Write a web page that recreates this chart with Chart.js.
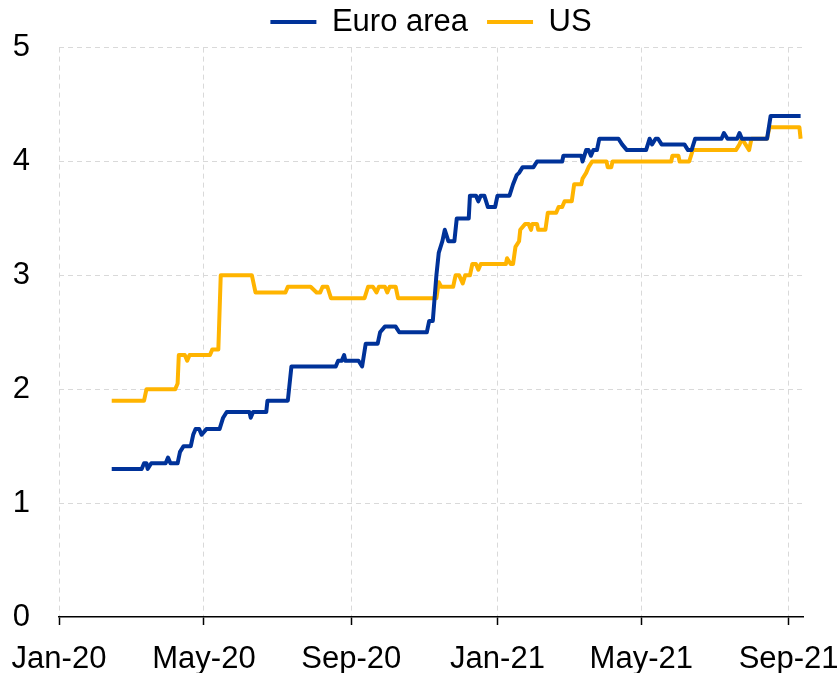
<!DOCTYPE html>
<html>
<head>
<meta charset="utf-8">
<script src="https://cdn.jsdelivr.net/npm/chart.js@4.4.1/dist/chart.umd.min.js"></script>
<style>
  html, body { margin: 0; padding: 0; background: #fff; }
</style>
</head>
<body>
<canvas id="expChart" width="840" height="673"></canvas>
<script>
// Series names and colours
var seriesNames = ['Euro area', 'US'];
var seriesColors = ['#003299', '#ffb400'];

// Euro area (dates where the line changes)
var euroDates = [
  '2020-02-14', '2020-03-10', '2020-03-12', '2020-03-14', '2020-03-15', '2020-03-18', '2020-03-30', '2020-04-01',
  '2020-04-03', '2020-04-09', '2020-04-11', '2020-04-14', '2020-04-20', '2020-04-22', '2020-04-24', '2020-04-27',
  '2020-04-29', '2020-05-03', '2020-05-14', '2020-05-17', '2020-05-20', '2020-06-08', '2020-06-09', '2020-06-11',
  '2020-06-22', '2020-06-23', '2020-07-10', '2020-07-13', '2020-08-19', '2020-08-21', '2020-08-24', '2020-08-26',
  '2020-08-27', '2020-09-07', '2020-09-10', '2020-09-13', '2020-09-23', '2020-09-25', '2020-09-29', '2020-10-08',
  '2020-10-11', '2020-11-03', '2020-11-05', '2020-11-08', '2020-11-11', '2020-11-13', '2020-11-16', '2020-11-18',
  '2020-11-21', '2020-11-26', '2020-11-28', '2020-12-08', '2020-12-09', '2020-12-14', '2020-12-16', '2020-12-18',
  '2020-12-21', '2020-12-24', '2020-12-30', '2021-01-01', '2021-01-11', '2021-01-14', '2021-01-17', '2021-01-19',
  '2021-01-22', '2021-01-31', '2021-02-03', '2021-02-24', '2021-02-25', '2021-03-12', '2021-03-13', '2021-03-16',
  '2021-03-18', '2021-03-20', '2021-03-22', '2021-03-25', '2021-03-27', '2021-04-12', '2021-04-15', '2021-04-19',
  '2021-05-05', '2021-05-08', '2021-05-10', '2021-05-13', '2021-05-15', '2021-05-18', '2021-06-06', '2021-06-09',
  '2021-06-12', '2021-06-15', '2021-07-07', '2021-07-09', '2021-07-12', '2021-07-20', '2021-07-22', '2021-07-24',
  '2021-08-14', '2021-08-17', '2021-09-11'
];
var euroValues = [
  1.3, 1.3, 1.35, 1.35, 1.3, 1.35, 1.35, 1.4,
  1.35, 1.35, 1.45, 1.5, 1.5, 1.6, 1.65, 1.65,
  1.6, 1.65, 1.65, 1.75, 1.8, 1.8, 1.75, 1.8,
  1.8, 1.9, 1.9, 2.2, 2.2, 2.25, 2.25, 2.3,
  2.25, 2.25, 2.2, 2.4, 2.4, 2.5, 2.55, 2.55,
  2.5, 2.5, 2.6, 2.6, 3.0, 3.2, 3.3, 3.4,
  3.3, 3.3, 3.5, 3.5, 3.7, 3.7, 3.65, 3.7,
  3.7, 3.6, 3.6, 3.7, 3.7, 3.8, 3.88, 3.9,
  3.95, 3.95, 4.0, 4.0, 4.05, 4.05, 4.0, 4.1,
  4.1, 4.05, 4.1, 4.1, 4.2, 4.2, 4.15, 4.1,
  4.1, 4.2, 4.15, 4.2, 4.2, 4.15, 4.15, 4.1,
  4.1, 4.2, 4.2, 4.25, 4.2, 4.2, 4.25, 4.2,
  4.2, 4.4, 4.4
];

// US
var usDates = [
  '2020-02-14', '2020-03-12', '2020-03-14', '2020-04-07', '2020-04-09', '2020-04-10', '2020-04-15', '2020-04-17',
  '2020-04-19', '2020-05-06', '2020-05-08', '2020-05-13', '2020-05-15', '2020-06-10', '2020-06-13', '2020-07-08',
  '2020-07-10', '2020-07-29', '2020-08-03', '2020-08-06', '2020-08-08', '2020-08-12', '2020-08-15', '2020-09-12',
  '2020-09-15', '2020-09-19', '2020-09-22', '2020-09-24', '2020-09-29', '2020-10-01', '2020-10-03', '2020-10-08',
  '2020-10-10', '2020-11-11', '2020-11-13', '2020-11-15', '2020-11-25', '2020-11-27', '2020-11-30', '2020-12-03',
  '2020-12-05', '2020-12-09', '2020-12-11', '2020-12-14', '2020-12-16', '2020-12-18', '2021-01-08', '2021-01-09',
  '2021-01-12', '2021-01-14', '2021-01-16', '2021-01-19', '2021-01-20', '2021-01-24', '2021-01-27', '2021-01-29',
  '2021-01-30', '2021-02-03', '2021-02-04', '2021-02-10', '2021-02-12', '2021-02-19', '2021-02-21', '2021-02-24',
  '2021-02-26', '2021-03-04', '2021-03-06', '2021-03-12', '2021-03-13', '2021-03-16', '2021-03-18', '2021-03-21',
  '2021-04-02', '2021-04-03', '2021-04-06', '2021-04-07', '2021-05-26', '2021-05-27', '2021-06-01', '2021-06-02',
  '2021-06-10', '2021-06-13', '2021-07-19', '2021-07-22', '2021-07-24', '2021-07-27', '2021-07-30', '2021-08-01',
  '2021-08-14', '2021-08-16', '2021-09-10', '2021-09-11'
];
var usValues = [
  1.9, 1.9, 2.0, 2.0, 2.05, 2.3, 2.3, 2.25,
  2.3, 2.3, 2.35, 2.35, 3.0, 3.0, 2.85, 2.85,
  2.9, 2.9, 2.85, 2.85, 2.9, 2.9, 2.8, 2.8,
  2.9, 2.9, 2.85, 2.9, 2.9, 2.85, 2.9, 2.9,
  2.8, 2.8, 2.94, 2.9, 2.9, 3.0, 3.0, 2.93,
  3.0, 3.0, 3.1, 3.1, 3.05, 3.1, 3.1, 3.15,
  3.1, 3.1, 3.25, 3.3, 3.4, 3.45, 3.45, 3.4,
  3.45, 3.45, 3.4, 3.4, 3.55, 3.55, 3.6, 3.6,
  3.65, 3.65, 3.8, 3.8, 3.85, 3.9, 3.95, 4.0,
  4.0, 3.95, 3.95, 4.0, 4.0, 4.05, 4.05, 4.0,
  4.0, 4.1, 4.1, 4.15, 4.2, 4.15, 4.1, 4.2,
  4.2, 4.3, 4.3, 4.2
];

// Axis ticks
var tickDates = ['2020-01-01', '2020-05-01', '2020-09-01', '2021-01-01', '2021-05-01', '2021-09-01'];
var tickLabels = ['Jan-20', 'May-20', 'Sep-20', 'Jan-21', 'May-21', 'Sep-21'];
var axisStart = '2020-01-01';
var axisEnd = '2021-09-13';
var yTicks = [0, 1, 2, 3, 4, 5];

// days since axisStart
function dayOf(s) {
  var p = s.split('-');
  var a = axisStart.split('-');
  return (Date.UTC(+p[0], p[1] - 1, +p[2]) - Date.UTC(+a[0], a[1] - 1, +a[2])) / 86400000;
}

function toPoints(dates, values) {
  return dates.map(function(d, i) {
    return { x: dayOf(d), y: values[i] };
  });
}

Chart.defaults.font.family = "'Liberation Sans', Arial, sans-serif";
Chart.defaults.font.size = 31;
Chart.defaults.color = '#000';

var ctx = document.getElementById('expChart').getContext('2d');
var expChart = new Chart(ctx, {
  type: 'line',
  data: {
    datasets: [{
      label: seriesNames[0],
      data: toPoints(euroDates, euroValues),
      borderColor: seriesColors[0],
      backgroundColor: seriesColors[0],
      borderWidth: 4,
      pointRadius: 0,
      tension: 0,
      fill: false,
      borderJoinStyle: 'round'
    }, {
      label: seriesNames[1],
      data: toPoints(usDates, usValues),
      borderColor: seriesColors[1],
      backgroundColor: seriesColors[1],
      borderWidth: 4,
      pointRadius: 0,
      tension: 0,
      fill: false,
      borderJoinStyle: 'round'
    }]
  },
  options: {
    responsive: false,
    animation: false,
    layout: {
      padding: { top: -13, right: 37, bottom: 0, left: 0 }
    },
    plugins: {
      legend: {
        position: 'top',
        fullSize: false,
        labels: {
          boxWidth: 46,
          boxHeight: 4,
          padding: 19,
          color: '#000',
          generateLabels: function(chart) {
            return chart.data.datasets.map(function(ds, i) {
              return {
                text: ds.label,
                fillStyle: ds.borderColor,
                strokeStyle: ds.borderColor,
                lineWidth: 0,
                hidden: false,
                datasetIndex: i
              };
            });
          }
        }
      },
      tooltip: { enabled: false }
    },
    scales: {
      x: {
        type: 'linear',
        min: dayOf(axisStart),
        max: dayOf(axisEnd),
        afterBuildTicks: function(scale) {
          scale.ticks = tickDates.map(function(d) { return { value: dayOf(d) }; });
        },
        afterFit: function(scale) {
          scale.height = 56;
          scale.paddingLeft = 0;
          scale.paddingRight = 0;
        },
        ticks: {
          autoSkip: false,
          maxRotation: 0,
          padding: 16,
          callback: function(value, index) {
            return tickLabels[index];
          }
        },
        grid: {
          color: '#d9d9d9',
          lineWidth: 1,
          tickLength: 8,
          tickColor: '#000',
          tickWidth: 1.5,
          tickBorderDash: []
        },
        border: {
          display: true,
          color: '#000',
          width: 1.5,
          dash: [5, 4]
        }
      },
      y: {
        min: 0,
        max: 5,
        afterBuildTicks: function(scale) {
          scale.ticks = yTicks.map(function(v) { return { value: v }; });
        },
        afterFit: function(scale) {
          scale.width = 59;
        },
        ticks: {
          padding: 29
        },
        grid: {
          color: function(c) { return c.tick && c.tick.value === 0 ? 'rgba(0,0,0,0)' : '#d9d9d9'; },
          lineWidth: 1,
          drawTicks: false
        },
        border: {
          display: false,
          dash: [5, 4]
        }
      }
    }
  }
});
</script>
</body>
</html>
